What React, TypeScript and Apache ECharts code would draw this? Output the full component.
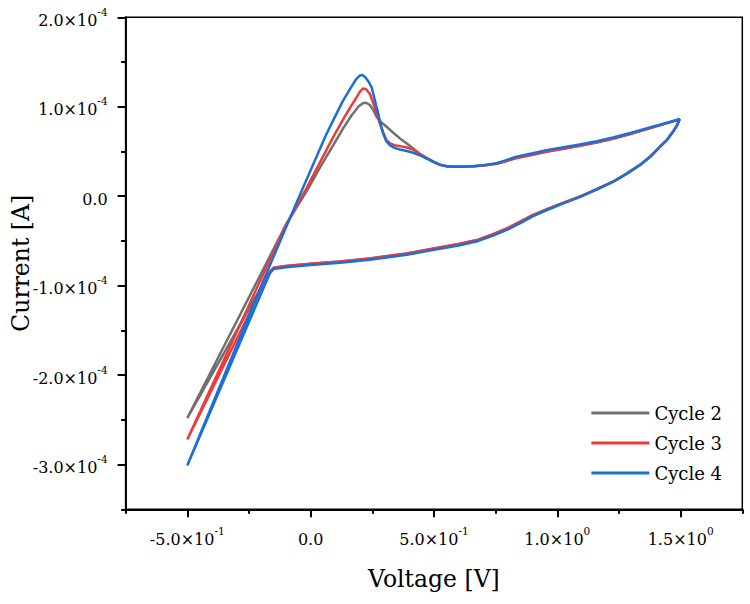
import React, { useEffect, useRef } from "react";
import * as echarts from "echarts";

// Voltage [V] and current [×1e-4 A], forward sweep then return sweep
const cycle2V = [-0.5, -0.3, -0.1, -0.01, 0.04, 0.092, 0.13, 0.165, 0.195, 0.212, 0.225, 0.24, 0.255, 0.267, 0.285, 0.308, 0.335, 0.362, 0.39, 0.416, 0.445, 0.47,
  0.5, 0.524, 0.55, 0.578, 0.62, 0.659, 0.7, 0.754, 0.79, 0.83, 0.9, 0.956, 1.02, 1.091, 1.16, 1.226, 1.3, 1.361, 1.43, 1.496,
  1.485, 1.469, 1.445, 1.415, 1.38, 1.334, 1.28, 1.226, 1.16, 1.091, 1.02, 0.956, 0.9, 0.85, 0.8, 0.74, 0.68, 0.6, 0.5, 0.39, 0.24, 0.12, 0.0, -0.1, -0.15, -0.165, -0.5];
const cycle2I = [-2.48, -1.4, -0.32, 0.086, 0.33, 0.571, 0.75, 0.9, 1.005, 1.04, 1.045, 1.02, 0.96, 0.888, 0.83, 0.776, 0.71, 0.646, 0.59, 0.534, 0.47, 0.428,
  0.383, 0.353, 0.337, 0.331, 0.331, 0.336, 0.344, 0.363, 0.39, 0.424, 0.463, 0.498, 0.528, 0.563, 0.601, 0.643, 0.698, 0.749, 0.805, 0.86,
  0.79, 0.72, 0.63, 0.55, 0.45, 0.347, 0.25, 0.162, 0.08, -0.005, -0.078, -0.148, -0.212, -0.285, -0.355, -0.425, -0.485, -0.535, -0.585, -0.64, -0.695, -0.73, -0.755, -0.78, -0.8, -0.845, -2.48];

const cycle3V = [-0.5, -0.3, -0.1, -0.016, 0.04, 0.092, 0.13, 0.16, 0.185, 0.2, 0.213, 0.225, 0.24, 0.254, 0.267, 0.281, 0.295, 0.308, 0.322, 0.34, 0.362, 0.39, 0.416, 0.445, 0.47,
  0.5, 0.524, 0.55, 0.578, 0.62, 0.659, 0.7, 0.754, 0.79, 0.83, 0.9, 0.956, 1.02, 1.091, 1.16, 1.226, 1.3, 1.361, 1.43, 1.496,
  1.485, 1.469, 1.445, 1.415, 1.38, 1.334, 1.28, 1.226, 1.16, 1.091, 1.02, 0.956, 0.9, 0.85, 0.8, 0.74, 0.68, 0.6, 0.5, 0.39, 0.24, 0.12, 0.0, -0.1, -0.15, -0.165, -0.5];
const cycle3I = [-2.72, -1.52, -0.32, 0.09, 0.39, 0.664, 0.85, 0.99, 1.1, 1.17, 1.206, 1.195, 1.145, 1.04, 0.93, 0.81, 0.71, 0.627, 0.59, 0.57, 0.56, 0.545, 0.52, 0.465, 0.425,
  0.382, 0.352, 0.336, 0.33, 0.33, 0.335, 0.343, 0.362, 0.39, 0.425, 0.465, 0.5, 0.53, 0.565, 0.603, 0.645, 0.7, 0.75, 0.806, 0.86,
  0.79, 0.72, 0.63, 0.55, 0.45, 0.347, 0.25, 0.162, 0.08, -0.005, -0.078, -0.148, -0.212, -0.285, -0.355, -0.425, -0.485, -0.535, -0.585, -0.64, -0.695, -0.73, -0.755, -0.78, -0.8, -0.845, -2.72];

const cycle4V = [-0.5, -0.4, -0.3, -0.2, -0.1, -0.03, 0.024, 0.06, 0.092, 0.13, 0.16, 0.185, 0.2, 0.21, 0.222, 0.235, 0.247, 0.258, 0.266, 0.274, 0.284, 0.294, 0.306, 0.321, 0.34, 0.362, 0.39, 0.416, 0.445, 0.47,
  0.5, 0.524, 0.55, 0.578, 0.62, 0.659, 0.7, 0.754, 0.79, 0.83, 0.9, 0.956, 1.02, 1.091, 1.16, 1.226, 1.3, 1.361, 1.43, 1.496,
  1.485, 1.469, 1.445, 1.415, 1.38, 1.334, 1.28, 1.226, 1.16, 1.091, 1.02, 0.956, 0.9, 0.85, 0.8, 0.74, 0.68, 0.6, 0.5, 0.39, 0.24, 0.12, 0.0, -0.1, -0.15, -0.165, -0.5];
const cycle4I = [-3.01, -2.34, -1.67, -1.0, -0.35, 0.1, 0.44, 0.67, 0.85, 1.06, 1.2, 1.31, 1.35, 1.355, 1.33, 1.28, 1.22, 1.1, 1.01, 0.926, 0.8, 0.7, 0.62, 0.571, 0.54, 0.523, 0.505, 0.485, 0.455, 0.42,
  0.38, 0.35, 0.335, 0.33, 0.33, 0.336, 0.345, 0.37, 0.4, 0.44, 0.48, 0.515, 0.545, 0.579, 0.615, 0.657, 0.71, 0.758, 0.81, 0.86,
  0.79, 0.72, 0.63, 0.55, 0.45, 0.347, 0.25, 0.16, 0.075, -0.01, -0.085, -0.157, -0.225, -0.3, -0.37, -0.44, -0.5, -0.55, -0.6, -0.655, -0.71, -0.745, -0.77, -0.795, -0.815, -0.86, -3.01];

const seriesNames = ["Cycle 2", "Cycle 3", "Cycle 4"];
const seriesColors = ["#707070", "#f03a3a", "#1a6fd8"];

const xMajorTicks = [-0.5, 0, 0.5, 1.0, 1.5];
const xMinorTicks = [-0.75, -0.25, 0.25, 0.75, 1.25, 1.75];
const yMajorTicks = [-3e-4, -2e-4, -1e-4, 0, 1e-4, 2e-4];
const yMinorTicks = [-3.5e-4, -2.5e-4, -1.5e-4, -0.5e-4, 0.5e-4, 1.5e-4];

const FONT = "DejaVu Serif";
const X_MIN = -0.75, X_MAX = 1.75, Y_MIN = -3.5e-4, Y_MAX = 2e-4;

function sciLabel(v: number): string {
  if (Math.abs(v) < 1e-12) return "{b|0.0}";
  const e = Math.floor(Math.log10(Math.abs(v)) + 1e-9);
  const m = v / Math.pow(10, e);
  return `{b|${m.toFixed(1)}×10}{s|${e}}`;
}

const rich = {
  b: { fontFamily: FONT, fontSize: 16, color: "#000", lineHeight: 22, verticalAlign: "bottom" },
  s: { fontFamily: FONT, fontSize: 10.5, color: "#000", lineHeight: 12, verticalAlign: "top" },
};

function pairs(vs: number[], is: number[]) {
  const n = Math.min(vs.length, is.length);
  const out: number[][] = [];
  for (let k = 0; k < n; k++) out.push([vs[k], is[k] * 1e-4]);
  return out;
}

function tickAxis(min: number, max: number, position: string, values: number[], length: number) {
  return {
    type: "value", min, max, position,
    axisLine: { show: false, onZero: false },
    axisTick: { show: true, inside: false, length, lineStyle: { color: "#000", width: 2 }, customValues: values },
    axisLabel: { show: false },
    splitLine: { show: false },
  };
}

export default function App() {
  const ref = useRef<HTMLDivElement>(null);
  useEffect(() => {
    if (!ref.current) return;
    const chart = echarts.init(ref.current, null, { renderer: "svg" });
    const datas = [pairs(cycle2V, cycle2I), pairs(cycle3V, cycle3I), pairs(cycle4V, cycle4I)];
    chart.setOption({
      animation: false,
      backgroundColor: "#fff",
      grid: {
        left: 125.6, top: 17.3, right: 7.7, bottom: 94.7,
        show: true, borderColor: "#000", borderWidth: 1.5,
        containLabel: false, outerBoundsMode: "none",
      },
      legend: {
        data: seriesNames,
        orient: "vertical",
        right: 23,
        top: 399,
        itemWidth: 58,
        itemHeight: 3,
        icon: "rect",
        itemGap: 12,
        align: "left",
        textStyle: { fontFamily: FONT, fontSize: 18, color: "#000" },
      },
      xAxis: [
        {
          type: "value", min: X_MIN, max: X_MAX, position: "bottom",
          name: "Voltage [V]", nameLocation: "middle", nameGap: 58, nameMoveOverlap: false,
          nameTextStyle: { fontFamily: FONT, fontSize: 23.5, color: "#000" },
          axisLine: { show: true, onZero: false, lineStyle: { color: "#000", width: 2 } },
          axisTick: { show: false },
          axisLabel: { show: true, margin: 16, customValues: xMajorTicks, formatter: (v: number) => sciLabel(v), rich },
          splitLine: { show: false },
        },
        tickAxis(X_MIN, X_MAX, "bottom", xMajorTicks, 8),
        tickAxis(X_MIN, X_MAX, "bottom", xMinorTicks, 4.5),
      ],
      yAxis: [
        {
          type: "value", min: Y_MIN, max: Y_MAX, position: "left",
          name: "Current [A]", nameLocation: "middle", nameGap: 93, nameMoveOverlap: false,
          nameTextStyle: { fontFamily: FONT, fontSize: 23.5, color: "#000" },
          axisLine: { show: true, onZero: false, lineStyle: { color: "#000", width: 2 } },
          axisTick: { show: false },
          axisLabel: { show: true, margin: 18, customValues: yMajorTicks, formatter: (v: number) => sciLabel(v), rich },
          splitLine: { show: false },
        },
        tickAxis(Y_MIN, Y_MAX, "left", yMajorTicks, 8),
        tickAxis(Y_MIN, Y_MAX, "left", yMinorTicks, 4.5),
      ],
      series: seriesNames.map((name, k) => ({
        name,
        type: "line",
        xAxisIndex: 0,
        yAxisIndex: 0,
        data: datas[k],
        showSymbol: false,
        symbol: "none",
        smooth: false,
        color: seriesColors[k],
        lineStyle: { color: seriesColors[k], width: 2.5 },
        z: 2 + k,
      })),
    });
    return () => chart.dispose();
  }, []);
  return <div ref={ref} style={{ position: "fixed", left: 0, top: 0, width: 750, height: 604 }} />;
}
